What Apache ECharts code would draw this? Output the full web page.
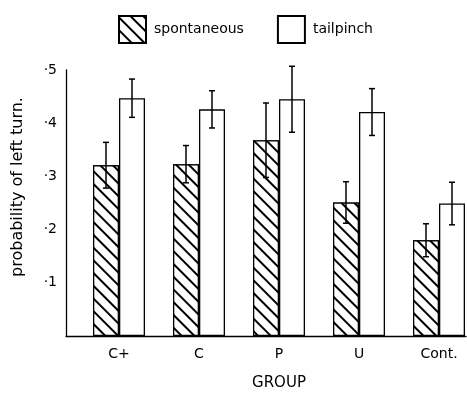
<!DOCTYPE html>
<html><head><meta charset="utf-8">
<script src="https://cdn.jsdelivr.net/npm/echarts@6/dist/echarts.min.js"></script>
<style>html,body{margin:0;padding:0;background:#fff}#c{width:467px;height:398px}</style>
</head><body><div id="c"></div>
<script>
var categories = ['C+', 'C', 'P', 'U', 'Cont.'];
var spontaneous = [0.321, 0.323, 0.368, 0.251, 0.180];
var spontaneousErr = [0.043, 0.035, 0.070, 0.039, 0.031];
var tailpinch = [0.447, 0.426, 0.445, 0.421, 0.249];
var tailpinchErr = [0.036, 0.035, 0.062, 0.044, 0.040];
var yTickLabels = {0.1: '·1', 0.2: '·2', 0.3: '·3', 0.4: '·4', 0.5: '·5'};

var FONT = "'DejaVu Sans', sans-serif";

function errData(vals, errs) {
  return vals.map(function (v, i) { return [i, v - errs[i], v + errs[i]]; });
}
function errSeries(vals, errs, frac) {
  return {
    type: 'custom', xAxisIndex: 0, yAxisIndex: 0, z: 10, clip: false,
    data: errData(vals, errs),
    renderItem: function (params, api) {
      var band = api.size([1, 0])[0];
      var lo = api.coord([api.value(0), api.value(1)]);
      var hi = api.coord([api.value(0), api.value(2)]);
      var x = lo[0] + band * frac;
      var cap = 3;
      var st = { stroke: '#000', lineWidth: 1.5 };
      return { type: 'group', children: [
        { type: 'line', shape: { x1: x, y1: lo[1], x2: x, y2: hi[1] }, style: st },
        { type: 'line', shape: { x1: x - cap, y1: lo[1], x2: x + cap, y2: lo[1] }, style: st },
        { type: 'line', shape: { x1: x - cap, y1: hi[1], x2: x + cap, y2: hi[1] }, style: st }
      ]};
    }
  };
}

var chart = echarts.init(document.getElementById('c'));
chart.setOption({
  animation: false,
  textStyle: { fontFamily: FONT, color: '#000' },
  legend: {
    top: 15, left: 118, padding: 0, itemWidth: 27, itemHeight: 27, itemGap: 33,
    textStyle: { fontSize: 14, color: '#000', fontFamily: FONT, padding: [0, 0, 0, 3] },
    data: [{ name: 'spontaneous', icon: 'rect' }, { name: 'tailpinch', icon: 'rect' }]
  },
  grid: [
    { left: 79, width: 400, top: 70, bottom: 62, outerBoundsMode: 'none', containLabel: false },
    { left: 66, width: 400, top: 70, bottom: 62, outerBoundsMode: 'none', containLabel: false }
  ],
  xAxis: [
    { type: 'category', gridIndex: 0, data: categories,
      axisLine: { show: false }, axisTick: { show: false },
      axisLabel: { fontSize: 14, color: '#000', margin: 11, fontFamily: FONT },
      name: 'GROUP', nameLocation: 'middle', nameGap: 40,
      nameTextStyle: { fontSize: 15, color: '#000', fontFamily: FONT } },
    { type: 'value', gridIndex: 1, min: 0, max: 1,
      axisLine: { show: true, lineStyle: { color: '#000', width: 1.3 } },
      axisTick: { show: false }, axisLabel: { show: false }, splitLine: { show: false } }
  ],
  yAxis: [
    { type: 'value', gridIndex: 0, min: 0, max: 0.5, interval: 0.1, offset: 13,
      axisLine: { show: true, lineStyle: { color: '#000', width: 1.3 } },
      axisTick: { show: false }, splitLine: { show: false },
      axisLabel: { fontSize: 14, color: '#000', margin: 9, fontFamily: FONT,
        formatter: function (v) { return yTickLabels[Math.round(v * 10) / 10] || ''; } },
      name: 'probability of left turn.', nameLocation: 'middle', nameGap: 40,
      nameTextStyle: { fontSize: 16, color: '#000', fontFamily: FONT, padding: [0, 0, 0, 32] } },
    { type: 'value', gridIndex: 1, min: 0, max: 0.5, show: false }
  ],
  series: [
    { name: 'spontaneous', type: 'bar', xAxisIndex: 0, yAxisIndex: 0,
      data: spontaneous, barGap: '0%', barCategoryGap: '35%',
      itemStyle: { color: '#fff', borderColor: '#000', borderWidth: 1.3,
        decal: { symbol: 'rect', symbolSize: 1, color: '#000', backgroundColor: '#fff',
          dashArrayX: [1, 0], dashArrayY: [1.1, 7], rotation: Math.PI / 4 } } },
    { name: 'tailpinch', type: 'bar', xAxisIndex: 0, yAxisIndex: 0,
      data: tailpinch, barGap: '0%', barCategoryGap: '35%',
      itemStyle: { color: '#fff', borderColor: '#000', borderWidth: 1.3 } },
    errSeries(spontaneous, spontaneousErr, -0.1625),
    errSeries(tailpinch, tailpinchErr, 0.1625)
  ]
});
</script></body></html>
